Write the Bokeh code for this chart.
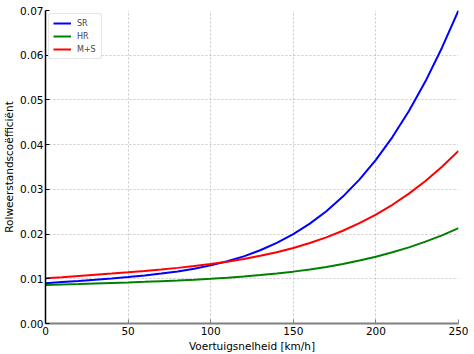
from bokeh.plotting import figure
from bokeh.models import Range1d, FixedTicker, Legend, LegendItem
from bokeh.embed import file_html
from bokeh.resources import INLINE

speed = [0, 10, 20, 30, 40, 50, 60, 70, 80, 90, 100, 110, 120, 130, 140, 150,
         160, 170, 180, 190, 200, 210, 220, 230, 240, 250]
sr = [0.00900, 0.00926, 0.00952, 0.00979, 0.01008, 0.01039, 0.01074, 0.01116,
      0.01165, 0.01226, 0.01300, 0.01391, 0.01502, 0.01638, 0.01802, 0.01999,
      0.02233, 0.02511, 0.02838, 0.03218, 0.03660, 0.04169, 0.04752, 0.05416,
      0.06168, 0.07000]
hr = [0.00860, 0.00872, 0.00883, 0.00895, 0.00907, 0.00919, 0.00932, 0.00947,
      0.00962, 0.00980, 0.01000, 0.01023, 0.01050, 0.01082, 0.01118, 0.01160,
      0.01209, 0.01266, 0.01332, 0.01407, 0.01493, 0.01592, 0.01703, 0.01830,
      0.01972, 0.02132]
ms = [0.01010, 0.01036, 0.01063, 0.01090, 0.01117, 0.01146, 0.01176, 0.01208,
      0.01244, 0.01284, 0.01330, 0.01383, 0.01443, 0.01513, 0.01595, 0.01690,
      0.01800, 0.01927, 0.02074, 0.02243, 0.02436, 0.02655, 0.02905, 0.03187,
      0.03505, 0.03861]
x_ticks = [0, 50, 100, 150, 200, 250]
y_ticks = [0.0, 0.01, 0.02, 0.03, 0.04, 0.05, 0.06, 0.07]
y_labels = {0.0: "0.00", 0.01: "0.01", 0.02: "0.02", 0.03: "0.03", 0.04: "0.04",
            0.05: "0.05", 0.06: "0.06", 0.07: "0.07"}

p = figure(width=474, height=354, output_backend="svg", toolbar_location=None,
           x_range=Range1d(0, 250), y_range=Range1d(0, 0.07),
           min_border_left=0, min_border_right=16, min_border_top=10,
           min_border_bottom=0)
p.outline_line_color = None
p.background_fill_color = "white"
p.border_fill_color = "white"

l1 = p.line(speed, sr, line_color="#0000ff", line_width=2)
l2 = p.line(speed, hr, line_color="#008000", line_width=2)
l3 = p.line(speed, ms, line_color="#ff0000", line_width=2)

font = "DejaVu Sans"
p.xaxis.ticker = FixedTicker(ticks=x_ticks)
p.yaxis.ticker = FixedTicker(ticks=y_ticks)
p.yaxis.major_label_overrides = y_labels
for ax in (p.xaxis[0], p.yaxis[0]):
    ax.major_label_text_font = font
    ax.major_label_text_font_size = "10.5px"
    ax.major_label_text_color = "black"
    ax.axis_label_text_font = font
    ax.axis_label_text_font_size = "10.5px"
    ax.axis_label_text_font_style = "normal"
    ax.axis_label_text_color = "black"
    ax.major_tick_in = 4
    ax.major_tick_out = 0
    ax.minor_tick_line_color = None
    ax.major_label_standoff = 3
p.xaxis.axis_label = "Voertuigsnelheid [km/h]"
p.yaxis.axis_label = "Rolweerstandscoëfficiënt"
p.yaxis.major_label_standoff = 2
p.xaxis.axis_line_color = "#808080"
p.xaxis.axis_line_width = 2
p.xaxis.major_tick_line_color = "#808080"
p.yaxis.axis_line_color = "black"
p.yaxis.axis_line_width = 1.5
p.xaxis.axis_label_standoff = 2
p.yaxis.axis_label_standoff = 2

p.grid.grid_line_color = "#c8c8c8"
p.grid.grid_line_dash = "2 2"
p.grid.grid_line_width = 1

legend = Legend(items=[LegendItem(label="SR", renderers=[l1]),
                       LegendItem(label="HR", renderers=[l2]),
                       LegendItem(label="M+S", renderers=[l3])],
                location="top_left")
legend.label_text_font = font
legend.label_text_font_size = "8px"
legend.glyph_width = 18
legend.glyph_height = 10
legend.label_height = 10
legend.spacing = 3
legend.padding = 4
legend.margin = 3
legend.border_line_color = "#cccccc"
legend.border_radius = 3
legend.label_standoff = 6
p.add_layout(legend)

open("out.html", "w").write(file_html(p, INLINE))
